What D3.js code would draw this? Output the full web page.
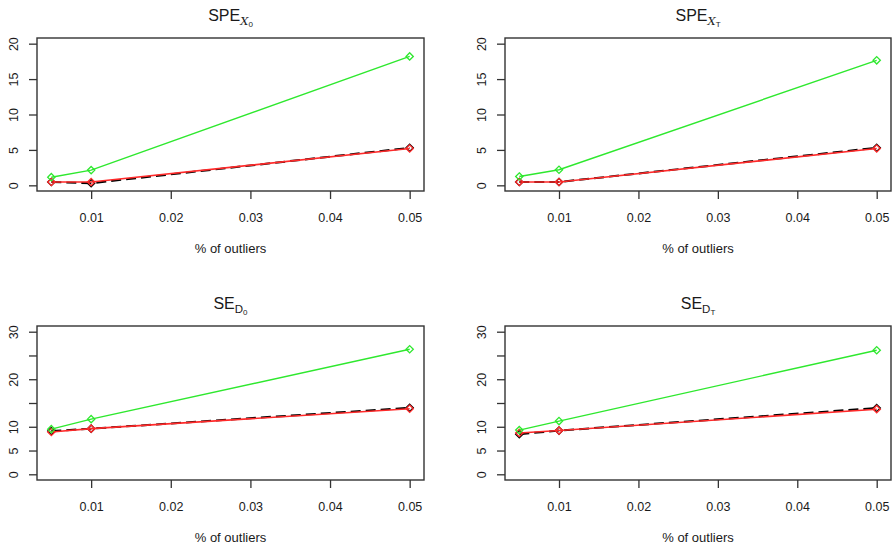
<!DOCTYPE html>
<html>
<head>
<meta charset="utf-8">
<script src="https://cdn.jsdelivr.net/npm/d3@7"></script>
<style>
  body { margin: 0; background: #fff; }
  svg { display: block; font-family: Arial, "Liberation Sans", sans-serif; }
</style>
</head>
<body>
<svg id="chart" width="892" height="547"></svg>
<script>
// x values: share of outliers
const pctOutliers = [0.005, 0.01, 0.05]

// SPE X0 panel
const speX0_green = [1.15, 2.15, 18.2]
const speX0_red   = [0.47, 0.47, 5.2]
const speX0_black = [0.47, 0.3, 5.3]

// SPE XT panel
const speXT_green = [1.25, 2.2, 17.65]
const speXT_red   = [0.47, 0.47, 5.2]
const speXT_black = [0.47, 0.47, 5.3]

// SE D0 panel
const seD0_green = [9.5, 11.6, 26.3]
const seD0_red   = [8.9, 9.6, 13.8]
const seD0_black = [9.1, 9.6, 14.0]

// SE DT panel
const seDT_green = [9.3, 11.2, 26.1]
const seDT_red   = [8.7, 9.2, 13.7]
const seDT_black = [8.45, 9.2, 13.95]

// ticks
const xTicks = [0.01, 0.02, 0.03, 0.04, 0.05]
const yTicksSPE = [0, 5, 10, 15, 20]
const yTicksSE = [0, 5, 10, 15, 20, 25, 30]
const yLabelsSE = ["0", "5", "10", "", "20", "", "30"]

const xLabel = "% of outliers"

const panels = [
  {main: "SPE", sub: "X", subsub: "0", italicSub: true, yMax: 20, yTicks: yTicksSPE, yLabels: yTicksSPE.map(String),
   green: speX0_green, red: speX0_red, black: speX0_black, left: 37, right: 424, top: 38, bottom: 191},
  {main: "SPE", sub: "X", subsub: "T", italicSub: true, yMax: 20, yTicks: yTicksSPE, yLabels: yTicksSPE.map(String),
   green: speXT_green, red: speXT_red, black: speXT_black, left: 505, right: 891, top: 38, bottom: 191},
  {main: "SE", sub: "D", subsub: "0", italicSub: false, yMax: 30, yTicks: yTicksSE, yLabels: yLabelsSE,
   green: seD0_green, red: seD0_red, black: seD0_black, left: 37, right: 424, top: 326, bottom: 480},
  {main: "SE", sub: "D", subsub: "T", italicSub: false, yMax: 30, yTicks: yTicksSE, yLabels: yLabelsSE,
   green: seDT_green, red: seDT_red, black: seDT_black, left: 505, right: 891, top: 326, bottom: 480}
]

const svg = d3.select("#chart")
const axisCol = "#333"
const textCol = "#1a1a1a"
const diamond = d3.symbol().type(d3.symbolDiamond2).size(34)

panels.forEach(p => {
  // R style 4% padding on both axes
  const xPad = (d3.max(pctOutliers) - d3.min(pctOutliers)) * 0.04
  const x = d3.scaleLinear()
    .domain([d3.min(pctOutliers) - xPad, d3.max(pctOutliers) + xPad])
    .range([p.left, p.right])
  const yPad = p.yMax * 0.04
  const y = d3.scaleLinear()
    .domain([-yPad, p.yMax + yPad])
    .range([p.bottom, p.top])

  const g = svg.append("g")

  // x axis
  const gx = g.append("g")
    .attr("transform", "translate(0," + p.bottom + ")")
    .call(d3.axisBottom(x).tickValues(xTicks).tickSize(8)
      .tickFormat(d3.format(".2f")))
  gx.select(".domain").remove()
  gx.selectAll(".tick line").attr("stroke", axisCol).attr("stroke-width", 1.3)
  gx.selectAll(".tick text")
    .attr("font-size", "12.5px").attr("fill", textCol)
    .attr("dy", 0).attr("y", 31)

  // y axis
  const gy = g.append("g")
    .attr("transform", "translate(" + p.left + ",0)")
    .call(d3.axisLeft(y).tickValues(p.yTicks).tickSize(8)
      .tickFormat((d, i) => p.yLabels[i]))
  gy.select(".domain").remove()
  gy.selectAll(".tick line").attr("stroke", axisCol).attr("stroke-width", 1.3)
  gy.selectAll(".tick text")
    .attr("font-size", "12.5px").attr("fill", textCol)
    .attr("transform", "rotate(-90)")
    .attr("x", 0).attr("y", -19).attr("dy", 0)
    .attr("text-anchor", "middle")

  // box
  g.append("rect")
    .attr("x", p.left).attr("y", p.top)
    .attr("width", p.right - p.left).attr("height", p.bottom - p.top)
    .attr("fill", "none").attr("stroke", axisCol).attr("stroke-width", 1.4)

  // series: black dashed underneath, red and green over it
  const series = [
    {vals: p.black, col: "#000", w: 2, dash: "10,5"},
    {vals: p.red, col: "#ff2a2a", w: 1.6, dash: null},
    {vals: p.green, col: "#2ee82e", w: 1.4, dash: null}
  ]
  const line = d3.line().x(d => x(d[0])).y(d => y(d[1]))
  series.forEach(s => {
    const pts = pctOutliers.map((v, i) => [v, s.vals[i]])
    g.append("path")
      .datum(pts)
      .attr("d", line)
      .attr("fill", "none")
      .attr("stroke", s.col)
      .attr("stroke-width", s.w)
      .attr("stroke-dasharray", s.dash)
    g.selectAll(null)
      .data(pts)
      .enter().append("path")
      .attr("d", diamond)
      .attr("transform", d => "translate(" + x(d[0]) + "," + y(d[1]) + ")")
      .attr("fill", "none")
      .attr("stroke", s.col)
      .attr("stroke-width", 1.3)
  })

  // title with plotmath-like subscripts
  const cx = (p.left + p.right) / 2
  const title = g.append("text")
    .attr("x", cx).attr("y", p.top - 17)
    .attr("text-anchor", "middle")
    .attr("font-size", "16px").attr("fill", textCol)
  title.append("tspan").text(p.main)
  title.append("tspan")
    .attr("dy", 4)
    .attr("font-size", "11.5px")
    .attr("font-family", p.italicSub ? "'DejaVu Serif', serif" : null)
    .attr("font-style", p.italicSub ? "italic" : null)
    .text(p.sub)
  title.append("tspan")
    .attr("dy", 2)
    .attr("font-size", "8px")
    .text(p.subsub)

  // x label
  g.append("text")
    .attr("x", cx).attr("y", p.bottom + 62)
    .attr("text-anchor", "middle")
    .attr("font-size", "13px").attr("fill", textCol)
    .text(xLabel)
})
</script>
</body>
</html>
